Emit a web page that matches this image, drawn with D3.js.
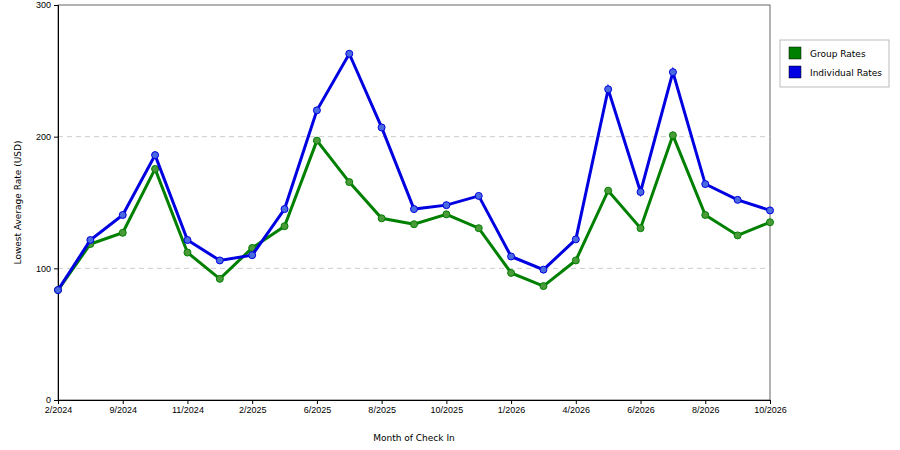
<!DOCTYPE html>
<html><head><meta charset="utf-8">
<script src="https://cdn.jsdelivr.net/npm/d3@7"></script>
<style>body{margin:0;background:#fff;font-family:"DejaVu Sans",Arial,sans-serif}</style>
</head><body><svg id="c" width="900" height="450"></svg>
<script>
const tickLabels=["2/2024","9/2024","11/2024","2/2025","6/2025","8/2025","10/2025","1/2026","4/2026","6/2026","8/2026","10/2026"];
const groupRates=[83.5,118.5,127,175.5,112,92,115.5,132,197,165.5,138,133.5,141,130.5,96.5,86.5,106,159,130.5,201,140.5,125,135];
const individualRates=[83.5,121.5,140.5,186,121.5,106,110,145,220,263,207,145,148,155,109,99,122,236,158,249,164,152,144];
const yTicks=[0,100,200,300];
const svg=d3.select("#c");
const L=58,R=770,T=5,B=400;
const x=d3.scaleLinear().domain([0,groupRates.length-1]).range([L,R]);
const y=d3.scaleLinear().domain([0,300]).range([B,T]);
svg.append("rect").attr("x",L).attr("y",T).attr("width",R-L).attr("height",B-T).attr("fill","none").attr("stroke","#000").attr("stroke-width",0.6);
svg.selectAll(".g").data([100,200]).enter().append("line").attr("x1",L).attr("x2",R).attr("y1",d=>y(d)).attr("y2",d=>y(d)).attr("stroke","#ccc").attr("stroke-dasharray","5,4");
const ya=svg.append("g").attr("transform",`translate(${L},0)`).call(d3.axisLeft(y).tickValues(yTicks).tickSize(4));
const xa=svg.append("g").attr("transform",`translate(0,${B})`).call(d3.axisBottom(x).tickValues(tickLabels.map((d,i)=>i*2)).tickFormat((d,i)=>tickLabels[i]).tickSize(4));
[ya,xa].forEach(a=>{a.selectAll("text").attr("font-size",9).attr("fill","#000");a.select(".domain").attr("stroke","#000");});
svg.append("text").attr("x",(L+R)/2).attr("y",441).attr("text-anchor","middle").attr("font-size",9).text("Month of Check In");
svg.append("text").attr("transform",`translate(21,${(T+B)/2}) rotate(-90)`).attr("text-anchor","middle").attr("font-size",9).text("Lowest Average Rate (USD)");
const line=d3.line().x((d,i)=>x(i)).y(d=>y(d));
[[groupRates,"#008000","#4a9a3a"],[individualRates,"#0000e0","#4a6ae0"]].forEach(([data,c,m])=>{
 svg.append("path").datum(data).attr("d",line).attr("fill","none").attr("stroke",c).attr("stroke-width",3);
 svg.selectAll(null).data(data).enter().append("circle").attr("cx",(d,i)=>x(i)).attr("cy",d=>y(d)).attr("r",3.5).attr("fill",m).attr("stroke",c).attr("stroke-width",1);
});
const lg=svg.append("g");
lg.append("rect").attr("x",780).attr("y",40).attr("width",109).attr("height",47).attr("fill","#fff").attr("stroke","#bbb");
[["Group Rates","#008000"],["Individual Rates","#0000e0"]].forEach(([t,c],i)=>{
 lg.append("rect").attr("x",789).attr("y",47+i*19).attr("width",12).attr("height",12).attr("fill",c).attr("stroke","#000").attr("stroke-width",0.5);
 lg.append("text").attr("x",810).attr("y",57+i*19).attr("font-size",9).text(t);
});
</script></body></html>
